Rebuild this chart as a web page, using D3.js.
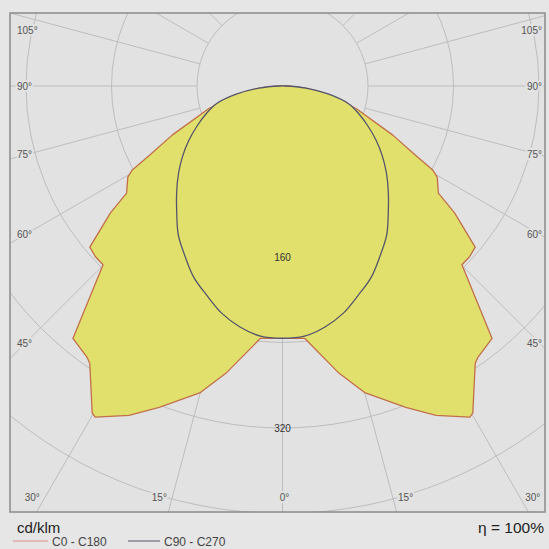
<!DOCTYPE html>
<html>
<head>
<meta charset="utf-8">
<script src="https://cdn.jsdelivr.net/npm/d3@7"></script>
<style>
  body { margin: 0; background: #e6e6e6; }
  text { font-family: "Liberation Sans", Arial, sans-serif; }
</style>
</head>
<body>
<div id="chart"></div>
<script>
// polar grid
var angleTicks = [0, 15, 30, 45, 60, 75, 90, 105, 120, 135, 150, 165];
var ringValues = [80, 160, 240, 320, 400, 480, 560, 640];
var ringLabels = [160, 320];
var sideLabels = [45, 60, 75, 90, 105];
var bottomLabels = [0, 15, 30];

// C0 - C180 (symmetric), gamma in degrees, cd/klm
var gammaC0 = [0, 5, 11, 15, 21, 25, 29.5, 30.2, 34.8, 35.7, 39.7, 45.1, 47.6, 50.1, 53.6, 55.5, 59.5, 60.8, 62.5, 66, 73, 80, 85, 90];
var intensC0 = [236, 237, 273, 297, 322, 340, 356, 354, 316, 313, 307, 237, 237, 235, 200, 177, 168, 161, 140, 113, 72, 42, 22, 4];

// C90 - C270 (symmetric)
var gammaC90 = [0, 5, 10, 15, 20, 25, 30, 35, 40, 45, 50, 55, 60, 65, 70, 75, 80, 85, 90];
var intensC90 = [236, 235, 229, 220, 208, 197, 183, 170, 154, 140, 127, 114, 101, 88, 76, 64, 44, 22, 2];

var svgWidth = 549, svgHeight = 549;
var frame = { left: 10, top: 13, right: 545, bottom: 512 };
var cx = 282.5, cy = 86;

var svg = d3.select("#chart").append("svg")
    .attr("width", svgWidth)
    .attr("height", svgHeight);

svg.append("rect")
    .attr("width", svgWidth).attr("height", svgHeight)
    .attr("fill", "#e6e6e6");

svg.append("rect")
    .attr("x", frame.left).attr("y", frame.top)
    .attr("width", frame.right - frame.left)
    .attr("height", frame.bottom - frame.top)
    .attr("fill", "#e2e2e2");

svg.append("clipPath").attr("id", "clip")
    .append("rect")
    .attr("x", frame.left).attr("y", frame.top)
    .attr("width", frame.right - frame.left)
    .attr("height", frame.bottom - frame.top);

// radial scale, cd/klm -> px
var rScale = d3.scaleLinear().domain([0, 80]).range([0, 85.5]);
var rad = function (g) { return g * Math.PI / 180; };

var plot = svg.append("g").attr("clip-path", "url(#clip)");
var center = plot.append("g").attr("transform", `translate(${cx}, ${cy})`);

// rings
center.selectAll(".ring")
    .data(ringValues)
    .enter()
    .append("circle")
    .attr("r", d => rScale(d))
    .attr("fill", "none")
    .attr("stroke", "#bdbdbd")
    .attr("stroke-width", 1);

// spokes, both sides, starting at the first ring
var spokes = [];
angleTicks.forEach(function (g) {
    spokes.push(g);
    if (g !== 0) spokes.push(-g);
});
center.selectAll(".spoke")
    .data(spokes)
    .enter()
    .append("line")
    .attr("x1", d => rScale(80) * Math.sin(rad(d)))
    .attr("y1", d => rScale(80) * Math.cos(rad(d)))
    .attr("x2", d => rScale(900) * Math.sin(rad(d)))
    .attr("y2", d => rScale(900) * Math.cos(rad(d)))
    .attr("stroke", "#bdbdbd")
    .attr("stroke-width", 1);

// build closed symmetric curve, angle for d3.lineRadial (0 = up, clockwise)
function buildCurve(gammas, values) {
    var pts = [];
    for (var i = gammas.length - 1; i >= 0; i--) {
        pts.push({ a: Math.PI + rad(gammas[i]), v: values[i] });
    }
    for (var j = 1; j < gammas.length; j++) {
        pts.push({ a: Math.PI - rad(gammas[j]), v: values[j] });
    }
    return pts;
}

var outerLine = d3.lineRadial()
    .angle(d => d.a)
    .radius(d => rScale(d.v))
    .curve(d3.curveLinearClosed);

var innerLine = d3.lineRadial()
    .angle(d => d.a)
    .radius(d => rScale(d.v))
    .curve(d3.curveCatmullRomClosed);

center.append("path")
    .attr("d", outerLine(buildCurve(gammaC0, intensC0)))
    .attr("fill", "#e2e06c")
    .attr("stroke", "#c0704a")
    .attr("stroke-width", 1.3)
    .attr("stroke-linejoin", "round");

center.append("path")
    .attr("d", innerLine(buildCurve(gammaC90, intensC90)))
    .attr("fill", "#e2e06c")
    .attr("stroke", "#55546a")
    .attr("stroke-width", 1.3);

// ring value labels
center.selectAll(".ringLabel")
    .data(ringLabels)
    .enter()
    .append("text")
    .attr("x", 0)
    .attr("y", d => rScale(d))
    .attr("dy", "0.35em")
    .attr("text-anchor", "middle")
    .attr("font-size", "10px")
    .attr("fill", "#333")
    .text(d => d);

// frame
svg.append("rect")
    .attr("x", frame.left).attr("y", frame.top)
    .attr("width", frame.right - frame.left)
    .attr("height", frame.bottom - frame.top)
    .attr("fill", "none")
    .attr("stroke", "#8a8a8a")
    .attr("stroke-width", 1.5);

// angle labels (with a halo so the spokes stop at the text)
function angleLabel(x, y, anchor, txt) {
    svg.append("text")
        .attr("x", x).attr("y", y).attr("dy", "0.35em")
        .attr("text-anchor", anchor)
        .attr("font-size", "10px").attr("fill", "#555")
        .attr("stroke", "#e2e2e2").attr("stroke-width", 4)
        .attr("paint-order", "stroke")
        .text(txt);
}

var labelInset = 25;
sideLabels.forEach(function (g) {
    var y = cy + (cx - labelInset) * Math.cos(rad(g)) / Math.sin(rad(g));
    y = Math.max(y, 30);
    angleLabel(frame.left + 7, y, "start", g + "°");
    angleLabel(frame.right - 3, y, "end", g + "°");
});

var labelY = 497;
bottomLabels.forEach(function (g) {
    var dx = (labelY - cy) * Math.tan(rad(g));
    var shift = g === 0 ? -2 : 13;
    angleLabel(cx - (dx + shift), labelY, "middle", g + "°");
    if (g !== 0) angleLabel(cx + dx + shift, labelY, "middle", g + "°");
});

// units and efficiency
svg.append("text")
    .attr("x", 17).attr("y", 533)
    .attr("font-size", "15px").attr("fill", "#222")
    .text("cd/klm");

svg.append("text")
    .attr("x", 544).attr("y", 533)
    .attr("text-anchor", "end")
    .attr("font-size", "15.5px").attr("fill", "#222")
    .text("η = 100%");

// legend
var legend = [
    { name: "C0 - C180", color: "#d98a8a", x1: 13, x2: 48 },
    { name: "C90 - C270", color: "#55546a", x1: 128, x2: 160 }
];
legend.forEach(function (d) {
    svg.append("line")
        .attr("x1", d.x1).attr("x2", d.x2)
        .attr("y1", 541).attr("y2", 541)
        .attr("stroke", d.color).attr("stroke-width", 1);
    svg.append("text")
        .attr("x", d.x2 + 4).attr("y", 542).attr("dy", "0.35em")
        .attr("font-size", "12px").attr("fill", "#444")
        .text(d.name);
});
</script>
</body>
</html>
